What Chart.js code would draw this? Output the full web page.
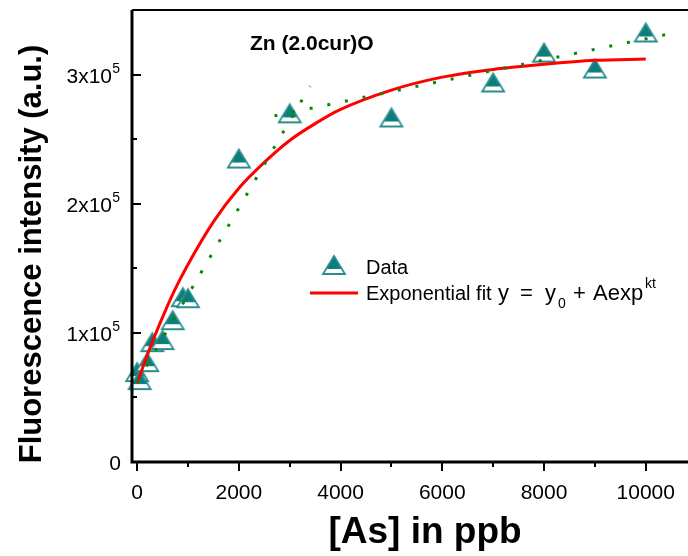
<!DOCTYPE html>
<html>
<head>
<meta charset="utf-8">
<style>
  html, body { margin: 0; padding: 0; background: #fff; }
  canvas { display: block; }
</style>
<script src="https://cdn.jsdelivr.net/npm/chart.js@4.4.1/dist/chart.umd.min.js"></script>
</head>
<body>
<canvas id="chart" width="688" height="556"></canvas>
<script>
// measured points: [As] in ppb vs fluorescence intensity
const asPpb = [0, 50, 200, 300, 500, 700, 900, 1000, 2000, 3000, 5000, 7000, 8000, 9000, 10000];
const intensity = [69600, 63400, 77300, 92800, 94400, 109800, 127600, 126800, 235000, 270000, 266800, 293900, 317000, 304700, 332600];

// red exponential fit
const fitPpb = [0, 250, 500, 750, 1000, 1500, 2000, 2500, 3000, 3500, 4000, 5000, 6000, 7000, 8000, 9000, 10000];
const fitIntensity = [61000, 88000, 112000, 134000, 153000, 186000, 212000, 232000, 249000, 262000, 273000, 288000, 298000, 304000, 308000, 311000, 312000];

// green dotted guide lines (two straight pieces)
const guideLowPpb = [0, 3400];
const guideLowIntensity = [62000, 291000];
const guideHighPpb = [2700, 10400];
const guideHighIntensity = [268000, 331000];

const xTicks = [0, 2000, 4000, 6000, 8000, 10000];
const xMinorTicks = [1000, 3000, 5000, 7000, 9000];
const yTicks = [0, 100000, 200000, 300000];
const yTickText = ['0', '1x10', '2x10', '3x10'];
const yTickExp = ['', '5', '5', '5'];
const yMinorTicks = [50000, 150000, 250000];

const FONT = '"Liberation Sans", Arial, sans-serif';
const TEAL = '#0b7d7b';
const TEAL_EDGE = '#2a8e8e';

function toXY(xs, ys) {
    return xs.map((v, i) => ({ x: v, y: ys[i] }));
}

// half-filled triangle marker like the original plot
function makeTriangle(w, h) {
    const c = document.createElement('canvas');
    c.width = w + 4;
    c.height = h + 4;
    const g = c.getContext('2d');
    const cx = c.width / 2, top = 2, bot = 2 + h;
    const path = () => {
        g.beginPath();
        g.moveTo(cx, top);
        g.lineTo(cx + w / 2, bot);
        g.lineTo(cx - w / 2, bot);
        g.closePath();
    };
    path();
    g.fillStyle = '#fff';
    g.fill();
    g.save();
    path();
    g.clip();
    g.fillStyle = TEAL;
    g.fillRect(0, 0, c.width, top + h * 0.72);
    g.restore();
    path();
    g.lineWidth = 1.8;
    g.strokeStyle = TEAL_EDGE;
    g.stroke();
    return c;
}
const triangle = makeTriangle(22, 18);

const decor = {
    id: 'decor',
    afterDraw(chart) {
        const { ctx, chartArea: a, scales: { x, y } } = chart;
        ctx.save();
        ctx.strokeStyle = '#000';
        ctx.fillStyle = '#000';

        // axis frame
        ctx.lineWidth = 3;
        ctx.beginPath();
        ctx.moveTo(a.left, a.top);
        ctx.lineTo(a.left, a.bottom);
        ctx.lineTo(a.right, a.bottom);
        ctx.stroke();
        ctx.lineWidth = 2;
        ctx.beginPath();
        ctx.moveTo(a.left, a.top);
        ctx.lineTo(a.right, a.top);
        ctx.stroke();

        // x ticks (outward), y ticks (inward)
        ctx.lineWidth = 2;
        ctx.beginPath();
        xTicks.forEach(v => { const px = Math.round(x.getPixelForValue(v)); ctx.moveTo(px, a.bottom); ctx.lineTo(px, a.bottom + 9); });
        xMinorTicks.forEach(v => { const px = Math.round(x.getPixelForValue(v)); ctx.moveTo(px, a.bottom); ctx.lineTo(px, a.bottom + 5); });
        yTicks.forEach(v => { const py = Math.round(y.getPixelForValue(v)); ctx.moveTo(a.left, py); ctx.lineTo(a.left + 9, py); });
        yMinorTicks.forEach(v => { const py = Math.round(y.getPixelForValue(v)); ctx.moveTo(a.left, py); ctx.lineTo(a.left + 5, py); });
        ctx.stroke();

        // x tick labels
        ctx.font = '21px ' + FONT;
        ctx.textAlign = 'center';
        ctx.textBaseline = 'alphabetic';
        xTicks.forEach(v => ctx.fillText(String(v), x.getPixelForValue(v), 499));

        // y tick labels with superscript exponent
        ctx.textAlign = 'right';
        yTicks.forEach((v, i) => {
            const py = y.getPixelForValue(v);
            if (yTickExp[i]) {
                ctx.font = '14px ' + FONT;
                ctx.fillText(yTickExp[i], 120, py - 2);
                ctx.font = '21px ' + FONT;
                ctx.fillText(yTickText[i], 112, py + 8);
            } else {
                ctx.font = '21px ' + FONT;
                ctx.fillText(yTickText[i], 121, py + 8);
            }
        });

        // axis titles
        ctx.font = 'bold 37px ' + FONT;
        ctx.textAlign = 'center';
        ctx.fillText('[As] in ppb', 425, 543);
        ctx.save();
        ctx.translate(41, 254);
        ctx.rotate(-Math.PI / 2);
        ctx.font = 'bold 31px ' + FONT;
        ctx.fillText('Fluorescence intensity (a.u.)', 0, 0);
        ctx.restore();

        // sample label
        ctx.font = 'bold 21px ' + FONT;
        ctx.textAlign = 'left';
        ctx.fillText('Zn (2.0cur)O', 250, 50);

        // legend
        ctx.drawImage(triangle, 334 - triangle.width / 2, 265 - triangle.height / 2);
        ctx.font = '20px ' + FONT;
        ctx.fillText('Data', 366, 274);
        ctx.strokeStyle = '#ff0000';
        ctx.lineWidth = 3;
        ctx.beginPath();
        ctx.moveTo(310, 293);
        ctx.lineTo(358, 293);
        ctx.stroke();
        ctx.fillText('Exponential fit', 366, 300);
        ctx.font = '22px ' + FONT;
        ctx.fillText('y', 498, 300);
        ctx.fillText('=', 520, 300);
        ctx.fillText('y', 545, 300);
        ctx.fillText('+', 573, 300);
        ctx.fillText('Aexp', 593, 300);
        ctx.font = '14px ' + FONT;
        ctx.fillText('0', 558, 308);
        ctx.fillText('kt', 645, 288);
        ctx.restore();
    }
};

new Chart(document.getElementById('chart'), {
    type: 'scatter',
    data: {
        datasets: [
            {
                data: toXY(guideLowPpb, guideLowIntensity),
                showLine: true, borderColor: '#0a870a', borderWidth: 3, borderDash: [3, 15],
                pointRadius: 0, fill: false
            },
            {
                data: toXY(guideHighPpb, guideHighIntensity),
                showLine: true, borderColor: '#0a870a', borderWidth: 3, borderDash: [3, 15],
                pointRadius: 0, fill: false
            },
            {
                data: toXY(fitPpb, fitIntensity),
                showLine: true, borderColor: '#ff0000', borderWidth: 3,
                cubicInterpolationMode: 'monotone', pointRadius: 0, fill: false
            },
            {
                data: toXY(asPpb, intensity),
                pointStyle: triangle, pointRadius: 10, clip: false
            }
        ]
    },
    options: {
        responsive: false,
        animation: false,
        devicePixelRatio: 1,
        layout: { autoPadding: false, padding: { left: 0, top: 10, right: 0, bottom: 0 } },
        plugins: { legend: { display: false }, tooltip: { enabled: false } },
        scales: {
            x: {
                type: 'linear', min: -100, max: 10830,
                ticks: { display: false }, grid: { display: false }, border: { display: false },
                afterFit(s) { s.height = 94; }
            },
            y: {
                min: 0, max: 350000,
                ticks: { display: false }, grid: { display: false }, border: { display: false },
                afterFit(s) { s.width = 132; }
            }
        }
    },
    plugins: [decor]
});
</script>
</body>
</html>
